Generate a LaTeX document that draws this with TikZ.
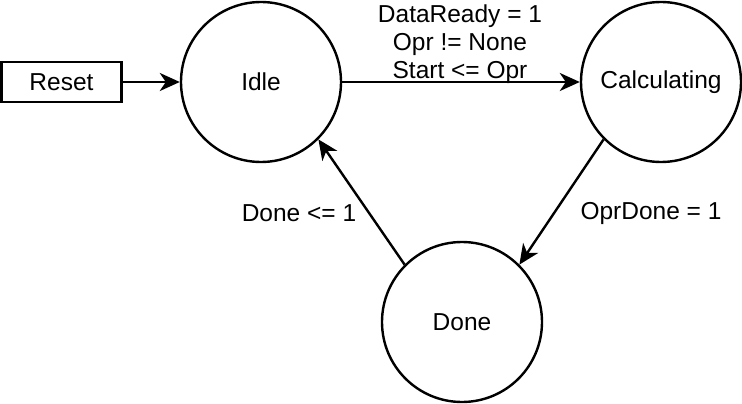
\documentclass[tikz,border=0pt]{standalone}
\usepackage{fontspec}
\setmainfont{Liberation Sans}
\usetikzlibrary{arrows.meta}
\begin{document}
\begin{tikzpicture}[x=1pt,y=-1pt,
  every node/.style={font=\fontsize{24.5}{28}\selectfont},
  state/.style={draw, circle, line width=2.4pt, minimum size=160pt, inner sep=0pt},
  resetbox/.style={draw, rectangle, line width=2.4pt, minimum width=120pt, minimum height=40pt, inner sep=0pt},
  conn/.style={line width=2.4pt, -{Stealth[length=20pt,width=18pt,inset=6pt]}},
  lbl/.style={inner sep=0pt, align=center}]
\useasboundingbox (0,0) rectangle (742,404);
\node[resetbox] (reset) at (61.5,82) {Reset};
\node[state] (idle) at (261,82) {Idle};
\node[state] (calc) at (661,82) {Calculating};
\node[state] (done) at (462,322) {Done};
\draw[conn] (reset) -- (idle);
\draw[conn] (idle) -- (calc);
\draw[conn] (calc.225) -- (done.45);
\draw[conn] (done.135) -- (idle.315);
\node[lbl, anchor=south] (l1) at (460,84) {DataReady = 1\\Opr != None\\Start <= Opr};
\node[lbl] (l2) at (299,213) {Done <= 1};
\node[lbl] (l3) at (651,213) {OprDone = 1};
\end{tikzpicture}
\end{document}
